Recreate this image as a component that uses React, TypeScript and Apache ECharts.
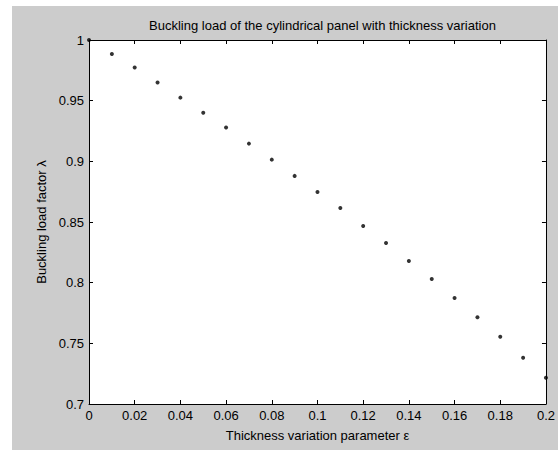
import React, { useEffect, useRef } from "react";
import * as echarts from "echarts";

const epsilonValues = [0, 0.01, 0.02, 0.03, 0.04, 0.05, 0.06, 0.07, 0.08, 0.09, 0.1, 0.11, 0.12, 0.13, 0.14, 0.15, 0.16, 0.17, 0.18, 0.19, 0.2];
const lambdaValues = [1.0, 0.9885, 0.9773, 0.9649, 0.9525, 0.9401, 0.9278, 0.9146, 0.9014, 0.888, 0.8748, 0.8616, 0.8467, 0.8327, 0.8179, 0.803, 0.7874, 0.7715, 0.7555, 0.7382, 0.7217];

const titleText = "Buckling load of the cylindrical panel with thickness variation";
const xName = "Thickness variation parameter ε";
const yName = "Buckling load factor λ";

const FONT = "'Liberation Sans', Arial, Helvetica, sans-serif";

export default function App() {
  const ref = useRef<HTMLDivElement>(null);
  useEffect(() => {
    if (!ref.current) return;
    const chart = echarts.init(ref.current, undefined, { renderer: "svg" });
    const axisCommon = {
      axisLine: { show: true, onZero: false, lineStyle: { color: "#000", width: 1 } },
      axisTick: { show: true, inside: true, length: 4, lineStyle: { color: "#000", width: 1 } },
      splitLine: { show: false },
    };
    chart.setOption({
      animation: false,
      backgroundColor: "#cccccc",
      title: {
        text: titleText,
        left: 317.5 - 12,
        textAlign: "center",
        top: 8,
        textStyle: { fontFamily: FONT, fontSize: 13, fontWeight: "normal", color: "#000" },
      },
      grid: {
        left: 77,
        right: 12,
        top: 34,
        bottom: 46,
        show: true,
        backgroundColor: "#ffffff",
        borderWidth: 0,
      },
      xAxis: [
        {
          type: "value",
          min: 0,
          max: 0.2,
          interval: 0.02,
          position: "bottom",
          name: xName,
          nameLocation: "middle",
          nameGap: 25,
          nameTextStyle: { fontFamily: FONT, fontSize: 13, color: "#000" },
          axisLabel: { fontFamily: FONT, fontSize: 13, color: "#000", margin: 5 },
          ...axisCommon,
        },
        {
          type: "value",
          min: 0,
          max: 0.2,
          interval: 0.02,
          position: "top",
          axisLabel: { show: false },
          ...axisCommon,
        },
      ],
      yAxis: [
        {
          type: "value",
          min: 0.7,
          max: 1,
          interval: 0.05,
          position: "left",
          name: yName,
          nameLocation: "middle",
          nameGap: 40,
          nameTextStyle: { fontFamily: FONT, fontSize: 13, color: "#000" },
          axisLabel: { fontFamily: FONT, fontSize: 13, color: "#000", margin: 5 },
          ...axisCommon,
        },
        {
          type: "value",
          min: 0.7,
          max: 1,
          interval: 0.05,
          position: "right",
          axisLabel: { show: false },
          ...axisCommon,
        },
      ],
      series: [
        {
          type: "scatter",
          xAxisIndex: 0,
          yAxisIndex: 0,
          symbol: "circle",
          symbolSize: 4,
          itemStyle: { color: "#000" },
          clip: false,
          data: epsilonValues.map((x, i) => [x, lambdaValues[i]]),
        },
      ],
    });
    return () => chart.dispose();
  }, []);
  return (
    <div style={{ position: "fixed", left: 0, top: 0, width: 558, height: 450, background: "#ffffff" }}>
      <div ref={ref} style={{ position: "absolute", left: 12, top: 6, width: 546, height: 444 }} />
    </div>
  );
}
